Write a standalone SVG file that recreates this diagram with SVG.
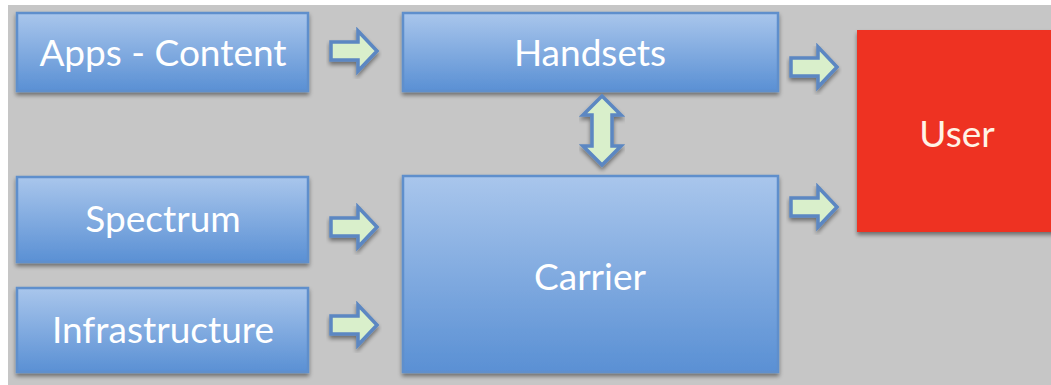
<svg xmlns="http://www.w3.org/2000/svg" width="1051" height="385" viewBox="0 0 1051 385">
<defs>
<linearGradient id="blue" x1="0" y1="0" x2="0" y2="1">
<stop offset="0" stop-color="#a9c6ec"/>
<stop offset="1" stop-color="#5a90d4"/>
</linearGradient>
<filter id="sh" x="-10%" y="-10%" width="120%" height="130%">
<feGaussianBlur in="SourceAlpha" stdDeviation="2"/>
<feOffset dx="0" dy="3"/>
<feComponentTransfer><feFuncA type="linear" slope="0.45"/></feComponentTransfer>
<feMerge><feMergeNode/><feMergeNode in="SourceGraphic"/></feMerge>
</filter>
<path id="ra" d="M0,-9 H27 V-20 L46,0 L27,20 V9 H0 Z"/>
</defs>
<style>
.box{fill:url(#blue);stroke:#5e8fcc;stroke-width:2.5;filter:url(#sh)}
.lbl{font-family:Lato,"Open Sans","Liberation Sans",sans-serif;font-size:37px;fill:#ffffff;text-anchor:middle}
.arr{fill:#d9efcb;stroke:#5b87c2;stroke-width:3.5;stroke-linejoin:miter;filter:url(#sh)}
</style>
<rect x="0" y="0" width="1051" height="385" fill="#ffffff"/>
<rect x="8" y="5" width="1043" height="380" fill="#c6c6c6"/>
<g id="apps"><rect class="box" x="17" y="13" width="291" height="78"/><text class="lbl" x="163" y="66">Apps - Content</text></g>
<g id="handsets"><rect class="box" x="403" y="13" width="375" height="78"/><text class="lbl" x="590" y="66">Handsets</text></g>
<g id="spectrum"><rect class="box" x="17" y="177" width="291" height="85"/><text class="lbl" x="163" y="232">Spectrum</text></g>
<g id="infrastructure"><rect class="box" x="17" y="288" width="291" height="84"/><text class="lbl" x="163" y="343">Infrastructure</text></g>
<g id="carrier"><rect class="box" x="403" y="176" width="375" height="196"/><text class="lbl" x="590" y="290">Carrier</text></g>
<g id="user"><rect x="857" y="30" width="200" height="202" fill="#ee3124" filter="url(#sh)"/><text class="lbl" x="957" y="147" style="fill:#fff3e6">User</text></g>
<g id="connectors">
<use href="#ra" class="arr" x="331" y="51"/>
<use href="#ra" class="arr" x="331" y="227"/>
<use href="#ra" class="arr" x="331" y="325"/>
<use href="#ra" class="arr" x="791" y="67"/>
<use href="#ra" class="arr" x="791" y="207"/>
<path class="arr" d="M602,96 L621,115 H612 V146 H621 L602,165 L583,146 H592 V115 H583 Z"/>
</g>
</svg>
